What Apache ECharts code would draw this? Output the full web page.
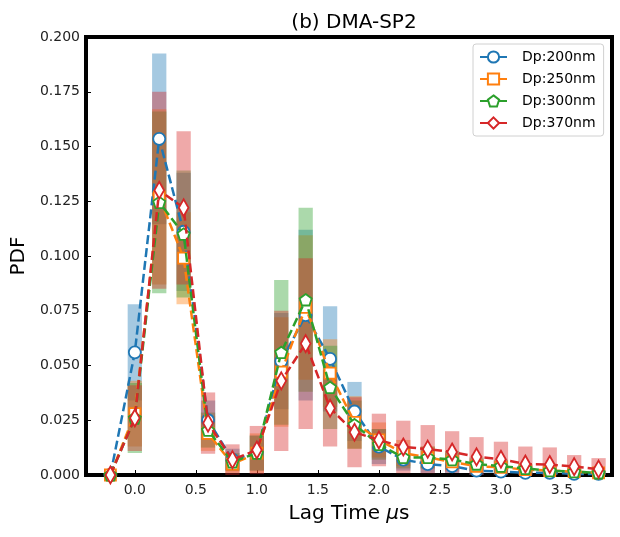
<!DOCTYPE html>
<html><head><meta charset="utf-8">
<script src="https://cdn.jsdelivr.net/npm/echarts@6/dist/echarts.min.js"></script>
<style>html,body{margin:0;padding:0;background:#fff}#c{width:620px;height:537px}</style>
</head><body><div id="c"></div>
<script>
const lagTimes = [-0.2, 0, 0.2, 0.4, 0.6, 0.8, 1.0, 1.2, 1.4, 1.6, 1.8, 2.0, 2.2, 2.4, 2.6, 2.8, 3.0, 3.2, 3.4, 3.6, 3.8];
const xTickValues = [0, 0.5, 1.0, 1.5, 2.0, 2.5, 3.0, 3.5];
const seriesNames = ['Dp:200nm', 'Dp:250nm', 'Dp:300nm', 'Dp:370nm'];
const mean200 = [0, 0.056, 0.1535, 0.111, 0.025, 0.007, 0.010, 0.052, 0.073, 0.053, 0.029, 0.013, 0.007, 0.005, 0.004, 0.002, 0.0015, 0.001, 0.001, 0.0005, 0.0005];
const err200  = [0, 0.022, 0.039, 0.027, 0.009, 0.005, 0.008, 0.022, 0.039, 0.024, 0.0135, 0.008, 0.005, 0.004, 0.003, 0.002, 0.0015, 0.001, 0.001, 0.0005, 0.0005];
const mean250 = [0, 0.028, 0.127, 0.099, 0.019, 0.005, 0.010, 0.047, 0.0765, 0.0465, 0.024, 0.016, 0.010, 0.008, 0.006, 0.004, 0.0035, 0.0025, 0.002, 0.0015, 0.001];
const err250  = [0, 0.015, 0.040, 0.021, 0.008, 0.004, 0.009, 0.025, 0.033, 0.0155, 0.012, 0.008, 0.006, 0.005, 0.004, 0.003, 0.003, 0.002, 0.002, 0.0015, 0.001];
const mean300 = [0, 0.026, 0.1245, 0.110, 0.0205, 0.006, 0.010, 0.056, 0.080, 0.040, 0.023, 0.014, 0.008, 0.008, 0.007, 0.005, 0.004, 0.003, 0.002, 0.0015, 0.001];
const err300  = [0, 0.016, 0.0415, 0.029, 0.008, 0.004, 0.008, 0.033, 0.042, 0.019, 0.011, 0.007, 0.005, 0.005, 0.004, 0.003, 0.003, 0.002, 0.002, 0.0015, 0.001];
const mean370 = [0, 0.026, 0.130, 0.122, 0.0237, 0.007, 0.0114, 0.043, 0.060, 0.0305, 0.0195, 0.016, 0.0128, 0.0118, 0.0105, 0.0083, 0.0072, 0.005, 0.0048, 0.0038, 0.0027];
const err370  = [0, 0.015, 0.045, 0.035, 0.014, 0.007, 0.011, 0.032, 0.039, 0.0175, 0.016, 0.012, 0.012, 0.011, 0.0095, 0.009, 0.008, 0.008, 0.0078, 0.0053, 0.005];

const means = [mean200, mean250, mean300, mean370];
const errs = [err200, err250, err300, err370];
const colors = ['#1f77b4', '#ff7f0e', '#2ca02c', '#d62728'];
const barColors = ['rgba(31,119,180,0.4)', 'rgba(255,127,14,0.4)', 'rgba(44,160,44,0.4)', 'rgba(214,39,40,0.4)'];
const symbols = [
  'circle',
  'rect',
  'path://M0,-1 L0.951,-0.309 L0.588,0.809 L-0.588,0.809 L-0.951,-0.309 Z',
  'path://M0,-1.75 L1,0 L0,1.75 L-1,0 Z'
];
const symbolSizes = [12, 11, 12, 17];
const FONT = 'DejaVu Sans';

const chart = echarts.init(document.getElementById('c'), null, {renderer: 'canvas'});
const series = [];
for (let k = 0; k < 4; k++) {
  const data = lagTimes.map((x, i) => [x, Math.max(0, means[k][i] - errs[k][i]), means[k][i] + errs[k][i]]);
  series.push({
    type: 'custom',
    name: 'range' + k,
    z: 1,
    clip: true,
    data: data,
    renderItem: function (params, api) {
      const x = api.value(0);
      const p0 = api.coord([x, api.value(1)]);
      const p1 = api.coord([x, api.value(2)]);
      const w = api.size([0.117, 0])[0];
      return {
        type: 'rect',
        shape: {x: p0[0] - w / 2, y: p1[1], width: w, height: p0[1] - p1[1]},
        style: {fill: barColors[k]}
      };
    }
  });
}
for (let k = 0; k < 4; k++) {
  series.push({
    type: 'line',
    name: seriesNames[k],
    z: 3 + k,
    data: lagTimes.map((x, i) => [x, means[k][i]]),
    symbol: symbols[k],
    symbolSize: symbolSizes[k],
    symbolKeepAspect: true,
    showAllSymbol: true,
    lineStyle: {color: colors[k], width: 2.5, type: [9, 4]},
    itemStyle: {color: '#fff', borderColor: colors[k], borderWidth: 1.8},
    emphasis: {disabled: true},
    animation: false
  });
}

chart.setOption({
  animation: false,
  backgroundColor: '#fff',
  title: {
    text: '(b) DMA-SP2',
    left: 349, top: 8,
    textAlign: 'center',
    textStyle: {fontFamily: FONT, fontSize: 20, fontWeight: 'normal', color: '#000'}
  },
  grid: {left: 86, right: 8, top: 37, bottom: 62, show: true, borderColor: '#000', borderWidth: 4, backgroundColor: 'transparent'},
  legend: {
    data: seriesNames,
    orient: 'vertical',
    left: 473, top: 44,
    padding: [6, 8, 6, 6],
    itemGap: 8,
    itemWidth: 27,
    itemHeight: 14,
    backgroundColor: 'rgba(255,255,255,0.8)',
    borderColor: '#d0d0d0',
    borderWidth: 1,
    borderRadius: 3,
    lineStyle: {type: 'solid', width: 2},
    textStyle: {fontFamily: FONT, fontSize: 14, color: '#000', padding: [0, 0, 0, 10]}
  },
  xAxis: {
    type: 'value',
    min: -0.4, max: 3.91,
    name: 'Lag Time {it|μ}s',
    nameLocation: 'middle',
    nameGap: 29,
    nameTextStyle: {fontFamily: FONT, fontSize: 20, color: '#000',
      rich: {it: {fontFamily: FONT, fontSize: 20, fontStyle: 'italic', color: '#000'}}},
    axisLine: {show: false, onZero: false},
    splitLine: {show: false},
    axisTick: {inside: true, length: 5, customValues: xTickValues, lineStyle: {color: '#000'}},
    axisLabel: {customValues: xTickValues, margin: 8, fontFamily: FONT, fontSize: 14, color: '#222', formatter: v => v.toFixed(1)}
  },
  yAxis: {
    type: 'value',
    min: 0, max: 0.2, interval: 0.025,
    name: 'PDF',
    nameLocation: 'middle',
    nameGap: 57,
    nameTextStyle: {fontFamily: FONT, fontSize: 20, color: '#000'},
    axisLine: {show: false, onZero: false},
    splitLine: {show: false},
    axisTick: {inside: true, length: 5, lineStyle: {color: '#000'}},
    axisLabel: {margin: 6, fontFamily: FONT, fontSize: 14, color: '#222', formatter: v => v.toFixed(3)}
  },
  series: series
});
</script>
</body></html>
